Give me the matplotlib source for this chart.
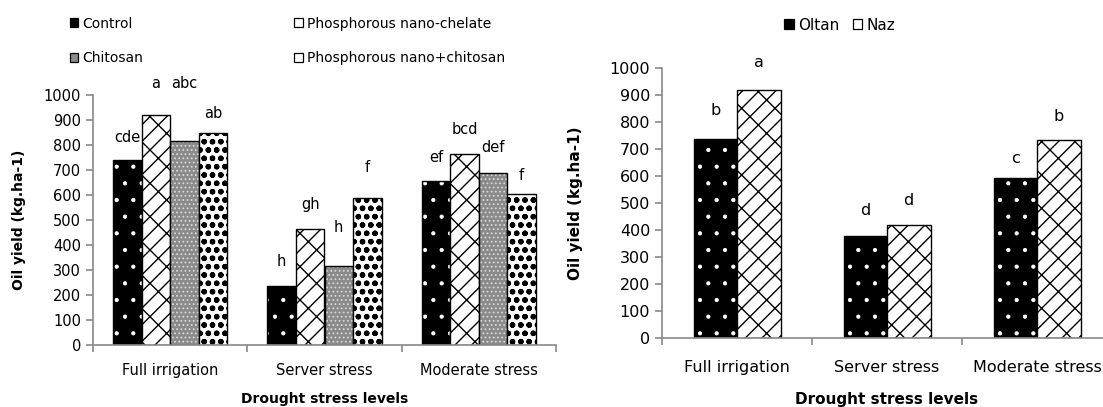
import matplotlib.pyplot as plt
import numpy as np

plt.rcParams['font.family'] = ['DejaVu Sans']

# left panel: treatments under drought levels
levels = ["Full irrigation", "Server stress", "Moderate stress"]
treatments = ["Control", "Phosphorous nano-chelate", "Chitosan", "Phosphorous nano+chitosan"]
control = [740, 235, 655]
nano_chelate = [920, 465, 765]
chitosan = [815, 318, 690]
nano_chitosan = [850, 590, 605]
left_letters = [["cde", "h", "ef"], ["a", "gh", "bcd"], ["abc", "h", "def"], ["ab", "f", "f"]]
left_letter_y = [[828, 332, 752], [1048, 564, 864], [1048, 468, 788], [928, 708, 680]]

# right panel: cultivars
cultivars = ["Oltan", "Naz"]
oltan = [738, 378, 592]
naz = [920, 420, 735]
right_letters = [["b", "d", "c"], ["a", "d", "b"]]
right_letter_y = [[842, 474, 663], [1020, 508, 820]]

GREY = '#898989'

# face colour, hatch colour, hatch, hatch linewidth
styles = {
    "Control": ('black', 'white', '.', 0.6),
    "Phosphorous nano-chelate": ('white', 'black', '//\\', 1.0),
    "Chitosan": ('#8a8a8a', '#d8d8d8', '....', 0.8),
    "Phosphorous nano+chitosan": ('white', 'black', 'oo', 1.6),
    "Oltan": ('black', 'white', '.', 0.6),
    "Naz": ('white', 'black', '//\\', 1.0),
}


def draw_bars(ax, x, h, w, name):
    fc, hc, hatch, hlw = styles[name]
    with plt.rc_context({'hatch.linewidth': hlw}):
        ax.bar(x, h, w, color=fc, edgecolor=hc, hatch=hatch, linewidth=0)
    ax.bar(x, h, w, fill=False, edgecolor='black', linewidth=1.0)
    # legend proxy: small outlined square
    with plt.rc_context({'hatch.linewidth': 0.6}):
        if fc == 'white':
            return plt.Rectangle((0, 0), 1, 1, facecolor='white', edgecolor='black',
                                 hatch=hatch[:1] if name != "Naz" else '/', linewidth=0.9)
        return plt.Rectangle((0, 0), 1, 1, facecolor=fc, edgecolor='black', linewidth=0.9)


def style_axes(ax, ncat, fs, pad, labelpad):
    ax.set_xlim(-0.5, ncat - 0.5)
    ax.set_ylim(0, 1000)
    ax.set_yticks(np.arange(0, 1001, 100))
    for s in ['top', 'right']:
        ax.spines[s].set_visible(False)
    for s in ['left', 'bottom']:
        ax.spines[s].set_color(GREY)
        ax.spines[s].set_linewidth(1.2)
    ax.set_xticks(np.arange(ncat + 1) - 0.5, [''] * (ncat + 1))
    ax.set_xticks(np.arange(ncat), levels, minor=True)
    ax.tick_params(axis='both', which='major', color=GREY, length=5, width=1.2, labelsize=fs)
    ax.tick_params(axis='x', which='minor', length=0, pad=pad, labelsize=fs)
    ax.set_ylabel("Oil yield (kg.ha-1)", fontweight='bold', fontsize=fs - 0.5)
    ax.set_xlabel("Drought stress levels", fontweight='bold', fontsize=fs - 0.5, labelpad=labelpad)


fig = plt.figure(figsize=(11.03, 4.07), dpi=100)

# ---- left chart
FS = 10.5
ax1 = fig.add_axes([93 / 1103, 62 / 407, 463 / 1103, 250 / 407])
x = np.arange(len(levels))
w = 0.185
handles = []
for i, (name, vals) in enumerate(zip(treatments, [control, nano_chelate, chitosan, nano_chitosan])):
    xi = x + (i - 1.5) * w
    handles.append(draw_bars(ax1, xi, vals, w, name))
    for xx, t, yy in zip(xi, left_letters[i], left_letter_y[i]):
        ax1.text(xx, yy, t, ha='center', va='center', fontsize=FS)
style_axes(ax1, len(levels), FS, 13, 10)
ax1.yaxis.set_label_coords(-0.145, 0.5)
order = [0, 2, 1, 3]
ax1.legend([handles[k] for k in order], [treatments[k] for k in order], ncol=2, frameon=False,
           fontsize=10, loc='upper left', bbox_to_anchor=(64 / 1103, 1 - 11 / 407),
           bbox_transform=fig.transFigure, handlelength=0.6, handleheight=0.6,
           handletextpad=0.3, columnspacing=10.9, labelspacing=1.5, borderaxespad=0)

# ---- right chart
FS2 = 11.5
ax2 = fig.add_axes([662 / 1103, 69 / 407, 450 / 1103, 270 / 407])
w2 = 0.29
handles2 = []
for i, (name, vals) in enumerate(zip(cultivars, [oltan, naz])):
    xi = x + (i - 0.5) * w2
    handles2.append(draw_bars(ax2, xi, vals, w2, name))
    for xx, t, yy in zip(xi, right_letters[i], right_letter_y[i]):
        ax2.text(xx, yy, t, ha='center', va='center', fontsize=FS2)
style_axes(ax2, len(levels), FS2, 16, 12)
ax2.yaxis.set_label_coords(-0.175, 0.5)
ax2.legend(handles2, cultivars, ncol=2, frameon=False, fontsize=FS2 - 0.5,
           loc='center', bbox_to_anchor=(840 / 1103, 1 - 25 / 407), bbox_transform=fig.transFigure,
           handlelength=0.6, handleheight=0.6, handletextpad=0.3, columnspacing=0.9,
           borderaxespad=0)

fig.savefig("out.png", dpi=100)
